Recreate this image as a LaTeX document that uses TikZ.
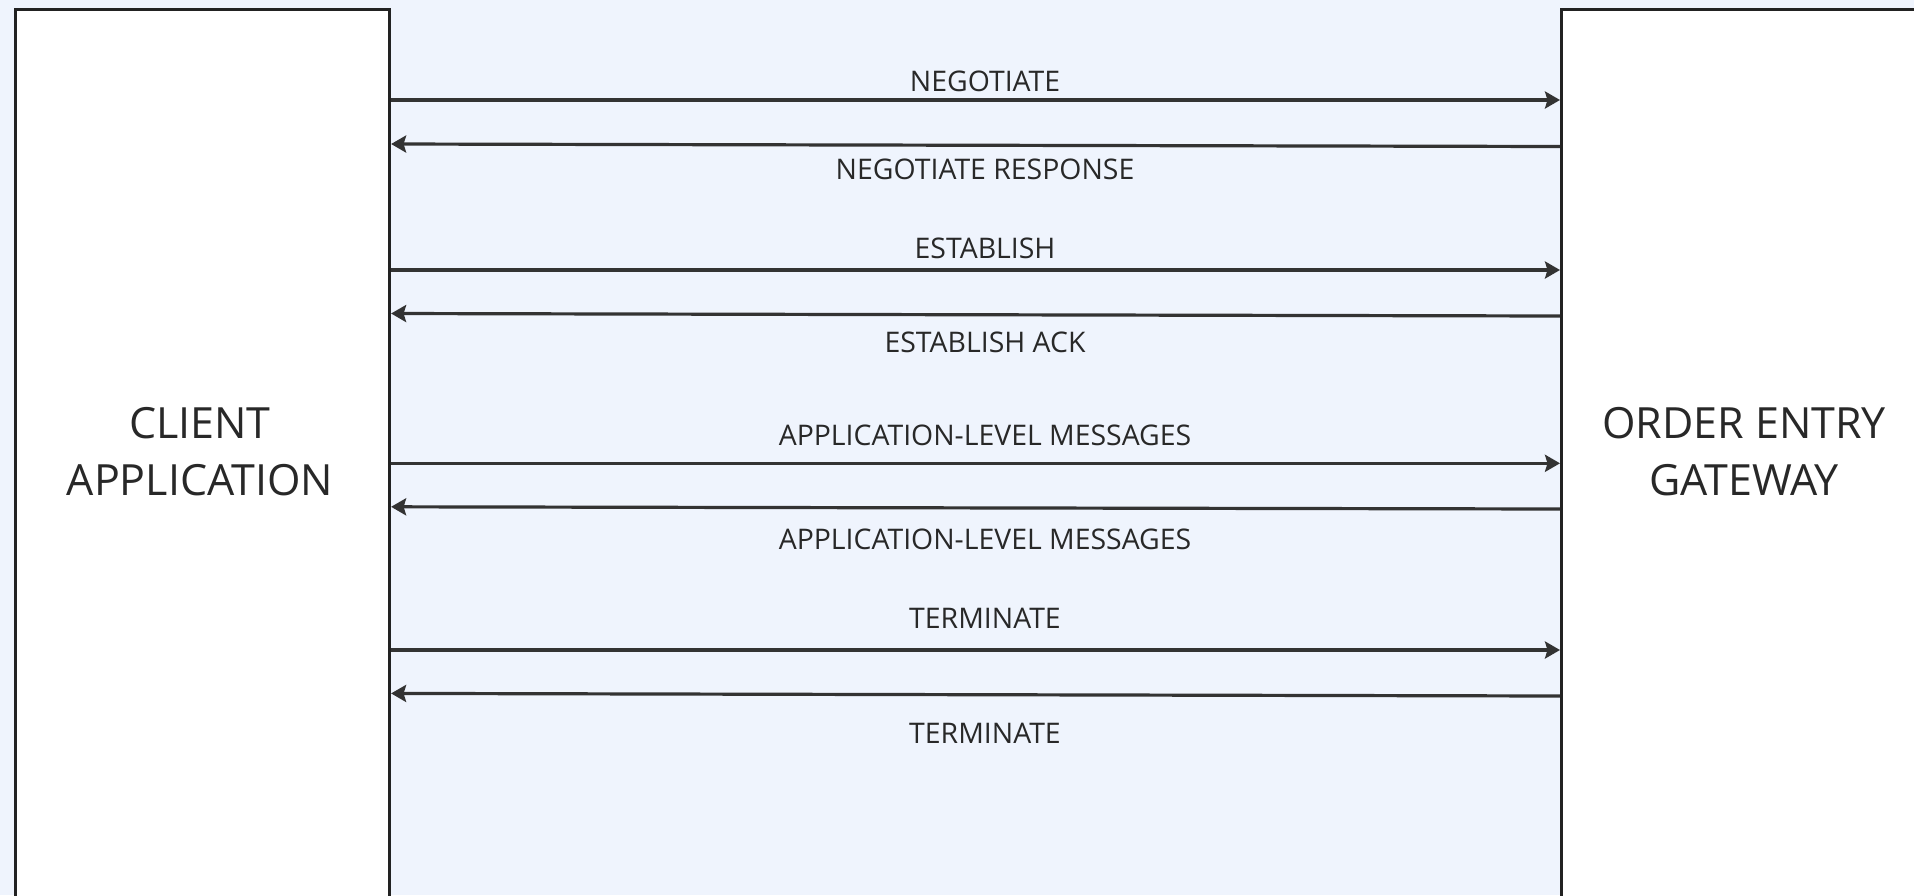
\documentclass[tikz,border=0pt]{standalone}
\usepackage{fontspec}
\setmainfont{Open Sans}
\usetikzlibrary{arrows.meta}
\definecolor{bgblue}{RGB}{239,244,253}
\definecolor{linegray}{RGB}{51,51,51}
\definecolor{boxedge}{RGB}{34,34,34}
\definecolor{txtgray}{RGB}{40,40,40}
\tikzset{
  actor/.style={draw=boxedge, line width=3.4pt, fill=white, rectangle, inner sep=0pt,
    minimum height=940pt, anchor=north west},
  actortext/.style={text=txtgray, align=center, font=\fontsize{43}{56.7}\selectfont, inner sep=0pt},
  msg/.style={draw=linegray, line width=3.2pt, -{Stealth[length=15pt,width=17pt,inset=2.5pt]}},
  msglabel/.style={text=txtgray, font=\fontsize{28.4}{32}\selectfont, inner sep=0pt, anchor=base}
}
\begin{document}
\begin{tikzpicture}[x=1pt,y=-1pt]
\useasboundingbox (0,0) rectangle (1914,895);
\fill[bgblue] (0,0) rectangle (1914,895);
\begin{scope}
\clip (0,0) rectangle (1914,895);
\node[actor, minimum width=374pt] (client) at (13.7,7.7) {};
\node[actor, minimum width=370pt] (gateway) at (1560,7.7) {};
\end{scope}
\node[actortext] (clienttxt) at (200,451.7) {CLIENT\\APPLICATION};
\node[actortext] (gatewaytxt) at (1744,451.7) {ORDER ENTRY\\GATEWAY};
% message rows
\coordinate (r1a) at (0,100);   \coordinate (r1b) at (0,100);
\coordinate (r2a) at (0,146.5); \coordinate (r2b) at (0,144);
\coordinate (r3a) at (0,270);   \coordinate (r3b) at (0,270);
\coordinate (r4a) at (0,316);   \coordinate (r4b) at (0,313.5);
\coordinate (r5a) at (0,463.3); \coordinate (r5b) at (0,463.3);
\coordinate (r6a) at (0,509);   \coordinate (r6b) at (0,506.8);
\coordinate (r7a) at (0,650);   \coordinate (r7b) at (0,650);
\coordinate (r8a) at (0,696);   \coordinate (r8b) at (0,693.4);
\draw[msg] (client.east |- r1a) -- (gateway.west |- r1b);
\draw[msg] (gateway.west |- r2a) -- (client.east |- r2b);
\draw[msg] (client.east |- r3a) -- (gateway.west |- r3b);
\draw[msg] (gateway.west |- r4a) -- (client.east |- r4b);
\draw[msg] (client.east |- r5a) -- (gateway.west |- r5b);
\draw[msg] (gateway.west |- r6a) -- (client.east |- r6b);
\draw[msg] (client.east |- r7a) -- (gateway.west |- r7b);
\draw[msg] (gateway.west |- r8a) -- (client.east |- r8b);
\node[msglabel] (l1) at (985,91.5) {NEGOTIATE};
\node[msglabel] (l2) at (985,179.7) {NEGOTIATE RESPONSE};
\node[msglabel] (l3) at (985,258) {ESTABLISH};
\node[msglabel] (l4) at (985,352) {ESTABLISH ACK};
\node[msglabel] (l5) at (985,445) {APPLICATION-LEVEL MESSAGES};
\node[msglabel] (l6) at (985,549.3) {APPLICATION-LEVEL MESSAGES};
\node[msglabel] (l7) at (985,628) {TERMINATE};
\node[msglabel] (l8) at (985,743.6) {TERMINATE};
\end{tikzpicture}
\end{document}
